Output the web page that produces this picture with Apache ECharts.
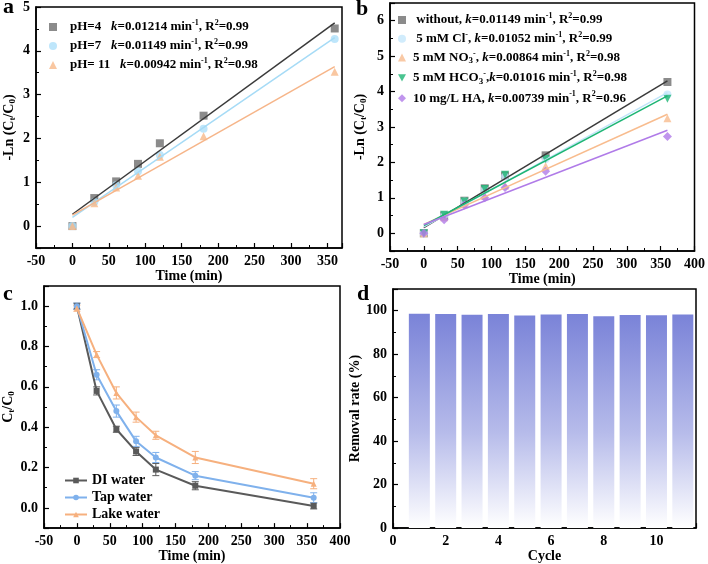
<!DOCTYPE html>
<html>
<head>
<meta charset="utf-8">
<script src="https://cdn.jsdelivr.net/npm/echarts@6/dist/echarts.min.js"></script>
<style>
  html, body { margin: 0; padding: 0; background: #fff; }
  #main { width: 708px; height: 564px; }
</style>
</head>
<body>
<div id="main"></div>
<script>
// panel a - pH
const timeA = [0, 30, 60, 90, 120, 180, 360];
const ph4 = [0, 0.64, 1.02, 1.42, 1.89, 2.52, 4.51];
const ph7 = [0, 0.55, 0.93, 1.25, 1.62, 2.22, 4.27];
const ph11 = [0, 0.52, 0.88, 1.15, 1.58, 2.05, 3.52];
const fitX = [0, 360];
const fitPh4 = [0.27, 4.64];
const fitPh7 = [0.2, 4.3];
const fitPh11 = [0.25, 3.64];

// panel b - anions / HA
const timeB = [0, 30, 60, 90, 120, 180, 360];
const without = [0, 0.5, 0.92, 1.27, 1.63, 2.2, 4.27];
const chloride = [0, 0.5, 0.9, 1.22, 1.6, 2.1, 3.92];
const nitrate = [0, 0.45, 0.82, 1.05, 1.35, 1.9, 3.25];
const bicarbonate = [0, 0.52, 0.9, 1.25, 1.65, 2.1, 3.8];
const humic = [0, 0.38, 0.8, 1.0, 1.29, 1.75, 2.73];
const fitWithout = [0.16, 4.3];
const fitChloride = [0.18, 3.97];
const fitNitrate = [0.25, 3.36];
const fitBicarbonate = [0.22, 3.88];
const fitHumic = [0.25, 2.91];

// panel c - water matrix
const timeC = [0, 30, 60, 90, 120, 180, 360];
const diWater = [1.0, 0.58, 0.39, 0.28, 0.19, 0.11, 0.01];
const diErr = [0.015, 0.02, 0.015, 0.02, 0.03, 0.02, 0.015];
const tapWater = [1.0, 0.66, 0.48, 0.33, 0.25, 0.16, 0.05];
const tapErr = [0.015, 0.025, 0.03, 0.025, 0.025, 0.02, 0.025];
const lakeWater = [0.99, 0.76, 0.57, 0.45, 0.36, 0.25, 0.12];
const lakeErr = [0.015, 0.015, 0.03, 0.025, 0.02, 0.03, 0.025];

// panel d - cycles
const cycles = [1, 2, 3, 4, 5, 6, 7, 8, 9, 10, 11];
const removal = [98.6, 98.5, 98.2, 98.5, 97.8, 98.3, 98.5, 97.5, 98.0, 97.9, 98.3];

const FONT = "'Liberation Serif', 'Times New Roman', serif";

const pairs = (xs, ys) => xs.map((x, i) => [x, ys[i]]);
const triples = (xs, ys, es) => xs.map((x, i) => [x, ys[i], es[i]]);

const rich = {
    g: { width: 8 },
    h: { width: 2 },
    b: { fontFamily: FONT, fontWeight: 'bold', fontSize: 13, color: '#000', lineHeight: 16 },
    n: { fontFamily: FONT, fontWeight: 'bold', fontSize: 14, color: '#000', lineHeight: 16 },
    i: { fontFamily: FONT, fontWeight: 'bold', fontStyle: 'italic', fontSize: 13, color: '#000', lineHeight: 16 },
    sup: { fontFamily: FONT, fontWeight: 'bold', fontSize: 8, color: '#000', lineHeight: 9, verticalAlign: 'top' },
    sub: { fontFamily: FONT, fontWeight: 'bold', fontSize: 9, color: '#000', lineHeight: 9, verticalAlign: 'bottom' }
};

const legendText = {
    'pH=4': '{g|}{b|pH=4   }{i|k}{b|=0.01214 min}{sup|-1}{b|, R}{sup|2}{b|=0.99}',
    'pH=7': '{g|}{b|pH=7   }{i|k}{b|=0.01149 min}{sup|-1}{b|, R}{sup|2}{b|=0.99}',
    'pH=11': '{g|}{b|pH= 11   }{i|k}{b|=0.00942 min}{sup|-1}{b|, R}{sup|2}{b|=0.98}',
    'without': '{h|}{b| without, }{i|k}{b|=0.01149 min}{sup|-1}{b|, R}{sup|2}{b|=0.99}',
    'Cl': '{h|}{b| 5 mM Cl}{sup|-}{b|, }{i|k}{b|=0.01052 min}{sup|-1}{b|, R}{sup|2}{b|=0.99}',
    'NO3': '{h|}{b|5 mM NO}{sub|3}{sup|-}{b|, }{i|k}{b|=0.00864 min}{sup|-1}{b|, R}{sup|2}{b|=0.98}',
    'HCO3': '{h|}{b|5 mM HCO}{sub|3}{sup|-}{b|,}{i|k}{b|=0.01016 min}{sup|-1}{b|, R}{sup|2}{b|=0.98}',
    'HA': '{h|}{b|10 mg/L HA, }{i|k}{b|=0.00739 min}{sup|-1}{b|, R}{sup|2}{b|=0.96}'
};

const tickFont = { color: '#000', fontFamily: FONT, fontWeight: 'bold', fontSize: 14, margin: 6 };

const valueAxis = (idx, opt, labelOpt) => Object.assign({
    type: 'value',
    gridIndex: idx,
    axisLine: { onZero: false, lineStyle: { color: '#000', width: 1.5 } },
    axisTick: { inside: true, length: 5, lineStyle: { color: '#000', width: 1.2 } },
    minorTick: { show: true, splitNumber: 2, length: 3, lineStyle: { color: '#000', width: 1 } },
    splitLine: { show: false },
    axisLabel: Object.assign({}, tickFont, labelOpt || {}),
    nameLocation: 'middle',
    nameTextStyle: { color: '#000', fontFamily: FONT, fontWeight: 'bold', fontSize: 14, rich: rich }
}, opt);

const gridBox = (left, top, width, height) => ({
    left, top, width, height, show: true, borderColor: '#000', borderWidth: 1.5
});

const scatter = (name, xi, data, symbol, color, extra) => Object.assign({
    name, type: 'scatter', xAxisIndex: xi, yAxisIndex: xi,
    data, symbol, symbolSize: 8, itemStyle: { color }, z: 3
}, extra || {});

const fit = (name, xi, ys, color) => ({
    name, type: 'line', xAxisIndex: xi, yAxisIndex: xi,
    data: pairs(fitX, ys), showSymbol: false, symbol: 'none',
    lineStyle: { color, width: 1.5 }, z: 4
});

const errorBars = (name, xi, data, color) => ({
    name, type: 'custom', xAxisIndex: xi, yAxisIndex: xi,
    data, z: 2,
    encode: { x: 0, y: 1 },
    renderItem: (params, api) => {
        const x = api.value(0), y = api.value(1), e = api.value(2);
        const top = api.coord([x, y + e]);
        const bot = api.coord([x, y - e]);
        const style = { stroke: color, lineWidth: 1 };
        return {
            type: 'group',
            children: [
                { type: 'line', shape: { x1: top[0], y1: top[1], x2: bot[0], y2: bot[1] }, style },
                { type: 'line', shape: { x1: top[0] - 3.5, y1: top[1], x2: top[0] + 3.5, y2: top[1] }, style },
                { type: 'line', shape: { x1: bot[0] - 3.5, y1: bot[1], x2: bot[0] + 3.5, y2: bot[1] }, style }
            ]
        };
    }
});

const curve = (name, xs, ys, symbol, color) => ({
    name, type: 'line', xAxisIndex: 2, yAxisIndex: 2,
    data: pairs(xs, ys), symbol, symbolSize: 6,
    lineStyle: { color, width: 2 }, itemStyle: { color }, z: 3
});

const panelLabel = (text, x, y) => ({
    type: 'text', left: x, top: y,
    style: { text, font: 'bold 22px ' + FONT, fill: '#000' }
});

const chart = echarts.init(document.getElementById('main'), null, { renderer: 'canvas' });

const option = {
    animation: false,
    backgroundColor: '#fff',
    grid: [
        gridBox(36, 4, 306, 244),
        gridBox(390, 3, 308, 248),
        gridBox(38, 286, 302, 243),
        gridBox(393, 289, 303, 245)
    ],
    xAxis: [
        valueAxis(0, { min: -50, max: 370, interval: 50, name: 'Time (min)', nameGap: 21 }, { showMaxLabel: false }),
        valueAxis(1, { min: -50, max: 400, interval: 50, name: 'Time (min)', nameGap: 20 }),
        valueAxis(2, { min: -50, max: 400, interval: 50, name: 'Time (min)', nameGap: 19 }),
        valueAxis(3, { min: 0, max: 11.5, interval: 2, name: 'Cycle', nameGap: 17 }, { showMaxLabel: false })
    ],
    yAxis: [
        valueAxis(0, { min: -0.5, max: 5, minInterval: 1, maxInterval: 1,
            name: '{n|-Ln (C}{sub|t}{n|/C}{sub|0}{n|)}', nameGap: 19 }, { showMinLabel: false }),
        valueAxis(1, { min: -0.5, max: 6.5, minInterval: 1, maxInterval: 1,
            name: '{n|-Ln (C}{sub|t}{n|/C}{sub|0}{n|)}', nameGap: 22 }, { showMinLabel: false, showMaxLabel: false }),
        valueAxis(2, { min: -0.1, max: 1.1, minInterval: 0.2, maxInterval: 0.2,
            name: '{n|C}{sub|t}{n|/C}{sub|0}', nameGap: 28 },
            { showMinLabel: false, showMaxLabel: false, formatter: v => v.toFixed(1) }),
        valueAxis(3, { min: 0, max: 110, interval: 20, name: 'Removal rate (%)', nameGap: 28 }, { showMaxLabel: false })
    ],
    legend: [
        {
            data: [
                { name: 'pH=4', icon: 'rect' },
                { name: 'pH=7', icon: 'circle' },
                { name: 'pH=11', icon: 'triangle' }
            ],
            orient: 'vertical', left: 44, top: 14,
            itemWidth: 8, itemHeight: 8, itemGap: 4.5,
            formatter: n => legendText[n], textStyle: { rich }
        },
        {
            data: [
                { name: 'without', icon: 'rect' },
                { name: 'Cl', icon: 'circle' },
                { name: 'NO3', icon: 'triangle' },
                { name: 'HCO3', icon: 'path://M0,0L10,0L5,9Z' },
                { name: 'HA', icon: 'diamond' }
            ],
            orient: 'vertical', left: 393, top: 7,
            itemWidth: 8, itemHeight: 8, itemGap: 4.3,
            formatter: n => legendText[n], textStyle: { rich }
        },
        {
            data: ['DI water', 'Tap water', 'Lake water'], orient: 'vertical', left: 59, top: 468,
            itemWidth: 22, itemHeight: 7, itemGap: 2,
            textStyle: { color: '#000', fontFamily: FONT, fontWeight: 'bold', fontSize: 14, lineHeight: 15 }
        }
    ],
    graphic: [
        panelLabel('a', 3, -4),
        panelLabel('b', 356, -2),
        panelLabel('c', 3, 283),
        panelLabel('d', 357, 283)
    ],
    series: [
        // a
        fit('pH=4 fit', 0, fitPh4, '#3a3a3a'),
        fit('pH=7 fit', 0, fitPh7, '#a6dbf6'),
        fit('pH=11 fit', 0, fitPh11, '#f6b589'),
        scatter('pH=4', 0, pairs(timeA, ph4), 'rect', '#6e6e6e'),
        scatter('pH=7', 0, pairs(timeA, ph7), 'circle', '#aee0fa'),
        scatter('pH=11', 0, pairs(timeA, ph11), 'triangle', '#f8b98a'),
        // b
        fit('without fit', 1, fitWithout, '#3a3a3a'),
        fit('Cl fit', 1, fitChloride, '#c2e5fa'),
        fit('NO3 fit', 1, fitNitrate, '#f8bc8e'),
        fit('HCO3 fit', 1, fitBicarbonate, '#1db574'),
        fit('HA fit', 1, fitHumic, '#b07be8'),
        scatter('without', 1, pairs(timeB, without), 'rect', '#6e6e6e'),
        scatter('Cl', 1, pairs(timeB, chloride), 'circle', '#c6e7fb'),
        scatter('NO3', 1, pairs(timeB, nitrate), 'triangle', '#f8bc8e'),
        scatter('HCO3', 1, pairs(timeB, bicarbonate), 'triangle', '#1db574', { symbolRotate: 180 }),
        scatter('HA', 1, pairs(timeB, humic), 'diamond', '#b07be8', { symbolSize: 9 }),
        // c
        errorBars('DI err', 2, triples(timeC, diWater, diErr), '#5a5a5a'),
        errorBars('Tap err', 2, triples(timeC, tapWater, tapErr), '#7fb1ec'),
        errorBars('Lake err', 2, triples(timeC, lakeWater, lakeErr), '#f6b07e'),
        curve('DI water', timeC, diWater, 'rect', '#5a5a5a'),
        curve('Tap water', timeC, tapWater, 'circle', '#7fb1ec'),
        curve('Lake water', timeC, lakeWater, 'triangle', '#f6b07e'),
        // d
        {
            name: 'Removal', type: 'bar', xAxisIndex: 3, yAxisIndex: 3,
            data: pairs(cycles, removal), barWidth: 21,
            itemStyle: {
                color: new echarts.graphic.LinearGradient(0, 0, 0, 1, [
                    { offset: 0, color: '#7a83d8' },
                    { offset: 0.55, color: '#b6bbea' },
                    { offset: 1, color: '#ffffff' }
                ])
            }
        }
    ]
};

chart.setOption(option);
</script>
</body>
</html>
